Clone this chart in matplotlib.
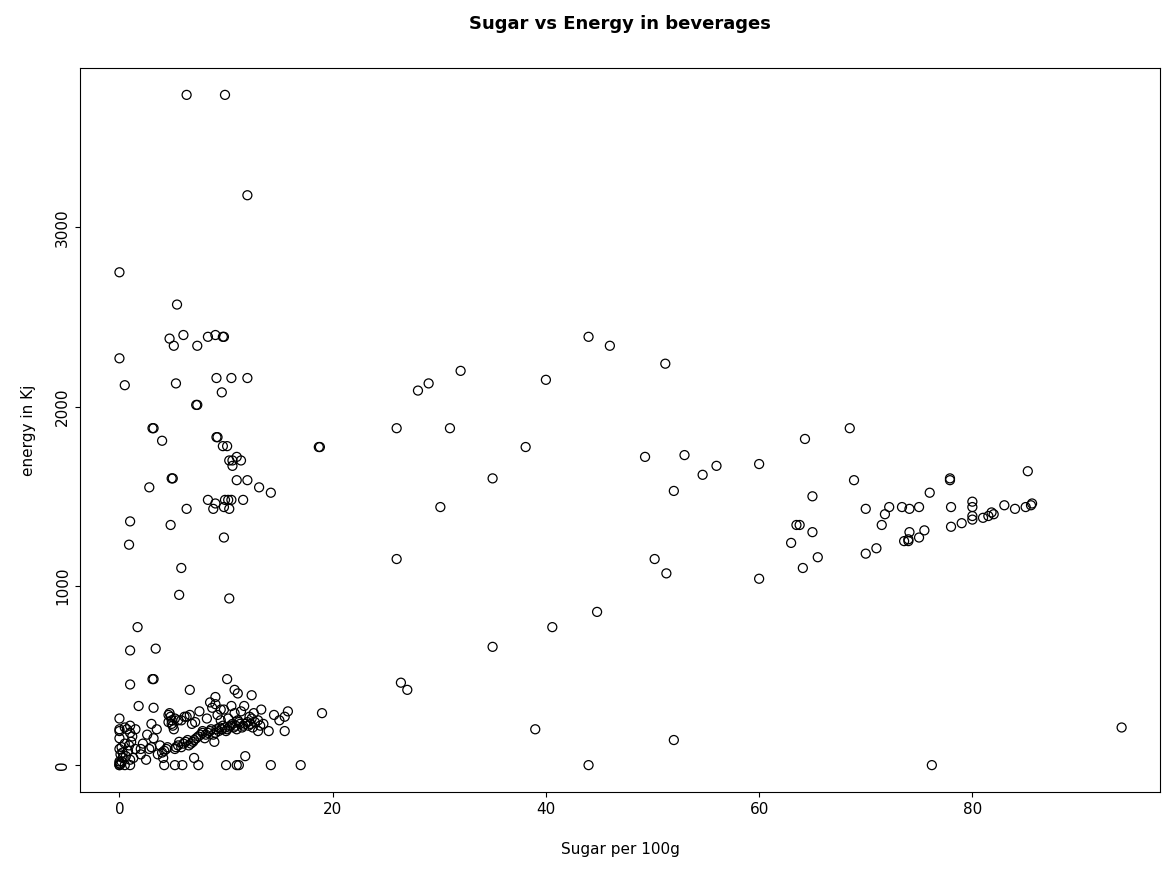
import matplotlib.pyplot as plt

# high / scattered points
sugar_hi = [6.3, 9.9, 12.0, 0, 0, 0.5, 5.4, 4.7, 5.1, 6.0, 7.3, 8.3, 9.0, 9.7, 9.8, 5.3, 9.1, 10.5, 12.0,
            9.6, 7.2, 7.3, 3.1, 3.2, 4.0, 9.1, 9.2, 9.7, 10.1, 10.3, 10.6, 11.0, 11.4, 10.6, 4.9, 5.0,
            11.0, 12.0, 2.8, 13.1, 14.2, 8.3, 9.9, 10.2, 10.5, 11.6, 9.0, 8.8, 9.8, 10.3, 6.3, 4.8, 1.0,
            0.9, 9.8, 5.8, 5.6, 10.3, 1.7, 1.0, 3.4, 1.0, 3.1, 3.2, 6.6, 10.1, 10.8, 11.1, 12.4, 9.0,
            18.7, 18.8, 19.0]
energy_hi = [3740, 3740, 3180, 2750, 2270, 2120, 2570, 2380, 2340, 2400, 2340, 2390, 2400, 2390, 2390, 2130,
             2160, 2160, 2160, 2080, 2010, 2010, 1880, 1880, 1810, 1830, 1830, 1780, 1780, 1700, 1700, 1720,
             1700, 1670, 1600, 1600, 1590, 1590, 1550, 1550, 1520, 1480, 1480, 1480, 1480, 1480, 1460, 1430,
             1440, 1430, 1430, 1340, 1360, 1230, 1270, 1100, 950, 930, 770, 640, 650, 450, 480, 480, 420,
             480, 420, 400, 390, 380, 1775, 1775, 290]

sugar_mid = [26, 26, 26.4, 27, 28, 29, 30.1, 31, 32, 35, 35, 38.1, 39, 40, 40.6, 44, 44, 44.8, 46, 49.3,
             50.2, 51.2, 51.3, 52, 52, 53, 54.7, 56, 60, 60, 63, 63.5, 63.8, 64.1, 64.3, 65, 65, 65.5, 68.5,
             68.9, 70, 70, 71, 71.5, 71.8, 72.2, 73.4, 73.6, 74, 74, 74.1, 74.1, 75, 75, 75.5, 76, 76.2,
             77.9, 77.9, 78, 78, 79, 80, 80, 80, 80, 81, 81.5, 81.8, 82, 83, 84, 85, 85.2, 85.5, 85.6, 94]
energy_mid = [1880, 1150, 460, 420, 2090, 2130, 1440, 1880, 2200, 1600, 660, 1775, 200, 2150, 770, 2390, 0,
              855, 2340, 1720, 1150, 2240, 1070, 1530, 140, 1730, 1620, 1670, 1680, 1040, 1240, 1340, 1340,
              1100, 1820, 1500, 1300, 1160, 1880, 1590, 1430, 1180, 1210, 1340, 1400, 1440, 1440, 1250, 1260,
              1250, 1300, 1430, 1440, 1270, 1310, 1520, 0, 1600, 1590, 1330, 1440, 1350, 1370, 1390, 1440,
              1470, 1380, 1390, 1410, 1400, 1450, 1430, 1440, 1640, 1450, 1460, 210]

# dense low cluster
sugar_lo = [0, 0, 0, 0, 0, 0, 0.1, 0.2, 0.3, 0.5, 0.5, 0.8, 1.0, 1.0, 1.2, 0, 0.1, 0.3, 0.6, 0.9, 1.1, 1.5,
            0, 0.2, 0.7, 1.0, 1.8, 2.0, 2.5, 2.8, 3.0, 3.2, 3.5, 3.8, 4.0, 4.2, 4.4, 4.5, 4.6, 4.7, 4.8,
            4.9, 5.0, 5.1, 5.2, 5.3, 5.5, 5.6, 5.8, 6.0, 6.2, 6.4, 6.5, 6.7, 6.9, 7.0, 7.2, 7.4, 7.6, 7.8,
            8.0, 8.1, 8.3, 8.5, 8.6, 8.8, 9.0, 9.1, 9.3, 9.4, 9.6, 9.7, 9.9, 10.0, 10.1, 10.3, 10.4, 10.6,
            10.7, 10.9, 11.0, 11.2, 11.3, 11.5, 11.6, 11.8, 12.0, 12.1, 12.3, 12.5, 12.7, 13.0, 13.2, 13.5,
            4.6, 4.9, 5.2, 5.5, 6.1, 6.6, 7.1, 7.5, 8.2, 8.7, 9.2, 9.5, 10.2, 10.5, 11.1, 11.4, 12.2, 12.6,
            8.5, 9.0, 9.8, 10.8, 11.7, 12.4, 13.3, 14.5, 15.0, 15.5, 15.8, 15.5, 14.0, 13.0, 3.0, 2.2, 1.5,
            5.8, 6.8, 7.8, 8.9, 9.5, 0, 0.5, 1.0, 4.2, 5.2, 5.9, 7.4, 10.0, 11.0, 11.2, 14.2, 17.0, 11.8,
            3.2, 2.6, 2.0, 1.3, 3.6, 4.1, 6.3, 7.0]
energy_lo = [0, 10, 20, 90, 150, 200, 60, 100, 40, 120, 210, 80, 30, 180, 160, 190, 5, 70, 50, 110, 130, 90,
             260, 20, 200, 220, 330, 60, 30, 90, 100, 150, 200, 110, 70, 80, 90, 100, 280, 290, 270,
             250, 220, 200, 90, 100, 110, 130, 100, 120, 130, 140, 110, 120, 130, 140, 150, 160, 170, 180,
             150, 170, 180, 190, 200, 170, 180, 200, 190, 210, 200, 220, 210, 190, 200, 210, 220, 230,
             210, 220, 200, 240, 230, 210, 220, 230, 240, 220, 230, 210, 240, 250, 220, 230,
             240, 230, 260, 250, 270, 280, 240, 300, 260, 320, 280, 310, 260, 330, 250, 300, 270, 290,
             350, 340, 310, 290, 330, 260, 310, 280, 250, 190, 300, 270, 190, 190, 230, 120, 200,
             250, 230, 190, 130, 250, 0, 0, 0, 0, 0, 0, 0, 0, 0, 0, 0, 0, 50,
             320, 170, 90, 40, 60, 40, 270, 40]

x = sugar_hi + sugar_mid + sugar_lo
y = energy_hi + energy_mid + energy_lo

fig = plt.figure(figsize=(11.67, 8.74), dpi=100)
ax = fig.add_axes([80 / 1167, 82 / 874, 1080 / 1167, 724 / 874])
ax.scatter(x, y, s=42, facecolors='none', edgecolors='black', linewidths=0.9)
ax.set_xlim(-3.7, 97.6)
ax.set_ylim(-150, 3890)
ax.set_xticks([0, 20, 40, 60, 80])
ax.set_yticks([0, 1000, 2000, 3000])
ax.set_yticklabels(['0', '1000', '2000', '3000'], rotation=90, va='center')
ax.tick_params(labelsize=11)
ax.set_xlabel('Sugar per 100g', fontsize=11, labelpad=18)
ax.set_ylabel('energy in Kj', fontsize=11, labelpad=14)
ax.set_title('Sugar vs Energy in beverages', fontsize=13, fontweight='bold', pad=28)
fig.savefig('out.png', dpi=100)
